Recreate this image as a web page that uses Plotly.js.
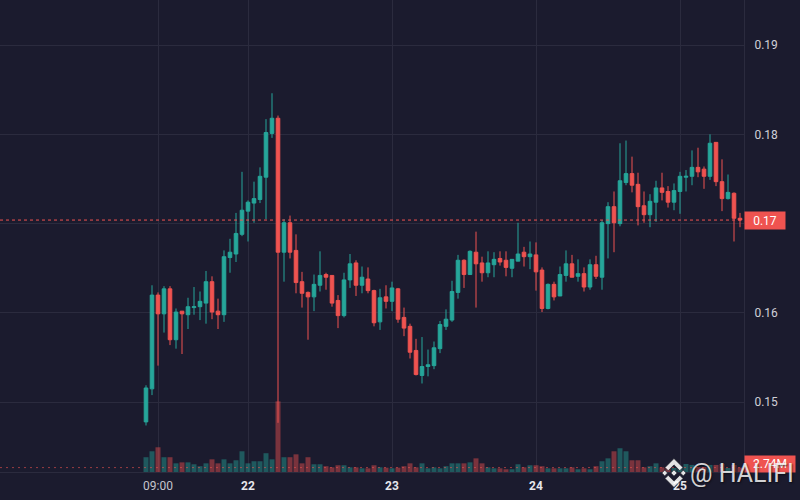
<!DOCTYPE html>
<html><head><meta charset="utf-8">
<script src="https://cdn.plot.ly/plotly-3.0.1.min.js"></script>
<style>html,body{margin:0;padding:0;background:#1b1b2e;} #chart{width:800px;height:500px;}</style>
</head><body><div id="chart"></div>
<script>
// Hourly candles, 21st 07:00 .. 25th 10:00
const openP = [.1478,.1515,.1620,.1599,.1627,.1570,.1602,.1598,.1606,.1607,
.1611,.1635,.1602,.1598,.1662,.1666,.1688,.1714,.1723,.1727,
.1752,.1801,.1818,.1668,.1701,.1670,.1635,.1623,.1618,.1631,
.1643,.1642,.1614,.1597,.1637,.1656,.1631,.1638,.1625,.1590,
.1618,.1613,.1627,.1595,.1585,.1558,.1530,.1540,.1541,.1560,
.1585,.1592,.1623,.1659,.1643,.1668,.1656,.1645,.1654,.1661,
.1659,.1650,.1658,.1668,.1663,.1665,.1648,.1605,.1632,.1619,
.1642,.1655,.1641,.1644,.1629,.1654,.1640,.1700,.1719,.1700,
.1746,.1756,.1744,.1720,.1710,.1724,.1740,.1736,.1724,.1736,
.1752,.1753,.1763,.1761,.1753,.1791,.1747,.1728,.1734,.1706];
const highP = [.1519,.1631,.1623,.1630,.1630,.1605,.1602,.1617,.1629,.1624,
.1647,.1641,.1616,.1670,.1683,.1712,.1758,.1726,.1747,.1763,
.1817,.1846,.1821,.1705,.1709,.1688,.1646,.1624,.1643,.1669,
.1645,.1642,.1620,.1645,.1666,.1659,.1652,.1651,.1626,.1627,
.1631,.1635,.1628,.1606,.1588,.1571,.1573,.1559,.1568,.1591,
.1604,.1636,.1665,.1660,.1670,.1691,.1663,.1669,.1668,.1669,
.1669,.1660,.1701,.1674,.1680,.1679,.1651,.1633,.1635,.1652,
.1670,.1665,.1660,.1651,.1660,.1664,.1704,.1724,.1736,.1790,
.1793,.1775,.1757,.1736,.1733,.1748,.1757,.1742,.1745,.1758,
.1760,.1782,.1785,.1764,.1800,.1791,.1772,.1755,.1735,.1712];
const lowP = [.1474,.1508,.1541,.1578,.1564,.1560,.1554,.1582,.1598,.1592,
.1588,.1593,.1582,.1590,.1645,.1657,.1686,.1680,.1701,.1723,
.1705,.1796,.1477,.1635,.1661,.1622,.1606,.1570,.1602,.1624,
.1626,.1607,.1583,.1595,.1628,.1619,.1622,.1622,.1585,.1581,
.1605,.1602,.1589,.1574,.1549,.1530,.1521,.1529,.1537,.1555,
.1581,.1590,.1616,.1628,.1643,.1606,.1635,.1640,.1640,.1653,
.1641,.1640,.1658,.1652,.1649,.1625,.1601,.1604,.1614,.1619,
.1635,.1640,.1635,.1624,.1626,.1638,.1626,.1661,.1668,.1697,
.1743,.1735,.1698,.1701,.1696,.1702,.1726,.1718,.1715,.1711,
.1736,.1743,.1752,.1739,.1749,.1742,.1714,.1727,.1680,.1696];
const closeP = [.1516,.1620,.1599,.1627,.1570,.1601,.1599,.1607,.1607,.1613,
.1635,.1601,.1598,.1663,.1668,.1689,.1715,.1724,.1728,.1753,
.1802,.1818,.1668,.1701,.1668,.1634,.1622,.1618,.1632,.1642,
.1640,.1611,.1597,.1637,.1655,.1631,.1640,.1625,.1589,.1617,
.1613,.1628,.1593,.1583,.1556,.1531,.1540,.1542,.1561,.1587,
.1593,.1624,.1659,.1643,.1669,.1655,.1645,.1656,.1660,.1657,
.1651,.1660,.1666,.1663,.1666,.1646,.1605,.1632,.1618,.1643,
.1655,.1640,.1644,.1629,.1654,.1641,.1701,.1719,.1701,.1748,
.1756,.1743,.1719,.1710,.1725,.1740,.1735,.1724,.1737,.1753,
.1753,.1763,.1758,.1753,.1790,.1747,.1728,.1735,.1706,.1704];
// Volume in millions
const volumeM = [9.2,12.9,15.4,9.2,9.2,5.4,6.0,6.0,4.8,3.6,
5.4,7.9,5.4,7.9,5.4,7.3,12.9,5.4,6.7,6.7,
11.7,7.9,44.0,9.2,9.2,11.0,5.4,9.2,4.8,4.8,
3.6,2.9,4.2,4.2,2.9,2.9,2.3,2.3,4.2,2.9,
2.7,2.3,2.7,3.6,5.4,2.9,5.4,2.3,2.9,2.3,
3.6,5.4,5.4,5.4,6.0,8.5,5.4,2.9,2.3,2.3,
1.7,1.7,4.8,2.9,4.2,4.2,3.6,2.3,2.3,2.3,
2.3,2.9,1.7,2.3,1.7,3.6,6.7,8.5,12.9,14.8,
12.9,7.3,7.3,2.9,3.6,5.4,2.9,2.5,2.5,3.1,
5.0,4.4,3.1,3.1,4.4,4.4,5.0,2.5,4.4,2.74];
const priceTicks = [0.15,0.16,0.17,0.18,0.19];
const priceTickText = ['0.15','0.16','0.17','0.18','0.19'];
const timeTicks = ['2024-03-21 09:00','2024-03-22 00:00','2024-03-23 00:00','2024-03-24 00:00','2024-03-25 00:00'];
const timeTickText = ['09:00','22','23','24','25'];
const lastVolumeText = '2.74M';
const watermarkText = '@ HALIFI';

const times = openP.map((_, i) => {
  const d = new Date(Date.UTC(2024, 2, 21, 7 + i));
  return d.toISOString().slice(0, 19).replace('T', ' ');
});

const UP = '#26a69a', DOWN = '#ef5350';
const volColors = closeP.map((c, i) => c >= openP[i] ? 'rgba(38,166,154,0.45)' : 'rgba(239,83,80,0.45)');
const lastClose = closeP[closeP.length - 1];
const lastVol = volumeM[volumeM.length - 1];

const traces = [
  {type: 'bar', x: times, y: volumeM, yaxis: 'y2', marker: {color: volColors, line: {width: 0}},
   width: 50 * 60 * 1000, hoverinfo: 'skip'},
  {type: 'candlestick', x: times, open: openP, high: highP, low: lowP, close: closeP,
   increasing: {line: {color: UP, width: 1}, fillcolor: UP},
   decreasing: {line: {color: DOWN, width: 1}, fillcolor: DOWN},
   whiskerwidth: 0, hoverinfo: 'skip'}
];

const grid = '#2b2b3e';
const tickTextStyled = timeTickText.map((t, i) => i === 0
  ? '<span style="color:#c4c4cc">' + t + '</span>'
  : '<b>' + t + '</b>');

// Watermark logo (decorative), built in paper coordinates of a 744x472 plot area
const PW = 744, PH = 472, LCX = 674, LCY = 473, LS = 14.5;
function poly(pts) {
  return 'M ' + pts.map(p => ((LCX + p[0] * LS) / PW).toFixed(5) + ',' + ((PH - (LCY + p[1] * LS)) / PH).toFixed(5)).join(' L ') + ' Z';
}
function diamond(u, v, h) { return poly([[u, v - h], [u + h, v], [u, v + h], [u - h, v]]); }
const chevTop = [[0, -1], [0.62, -0.38], [0.4, -0.16], [0, -0.56], [-0.4, -0.16], [-0.62, -0.38]];
const chevBot = chevTop.map(p => [p[0], -p[1]]);
const logoPaths = [poly(chevTop), poly(chevBot), diamond(0, 0, 0.22), diamond(-0.64, 0, 0.2), diamond(0.64, 0, 0.2)];
const logoShapes = logoPaths.map(p => ({type: 'path', xref: 'paper', yref: 'paper', path: p,
  fillcolor: 'rgba(255,255,255,0.88)', line: {color: 'rgba(20,20,30,0.7)', width: 1}, layer: 'above'}));

const layout = {
  width: 800, height: 500,
  margin: {l: 0, r: 56, t: 0, b: 28, pad: 0},
  paper_bgcolor: '#1b1b2e', plot_bgcolor: '#1b1b2e',
  showlegend: false, hovermode: false,
  font: {family: 'Roboto, "Open Sans", sans-serif', color: '#d6d6de', size: 12},
  boxgap: 0.15,
  xaxis: {
    type: 'date', range: ['2024-03-20 06:40', '2024-03-25 10:40'],
    tickmode: 'array', tickvals: timeTicks, ticktext: tickTextStyled,
    showgrid: true, gridcolor: grid, gridwidth: 1, zeroline: false,
    showline: true, linecolor: grid, linewidth: 1,
    ticks: 'outside', ticklen: 3, tickcolor: 'rgba(0,0,0,0)',
    tickfont: {size: 12, color: '#e6e6ec'},
    rangeslider: {visible: false}, fixedrange: true
  },
  yaxis: {
    side: 'right', range: [0.14219, 0.19504],
    tickmode: 'array', tickvals: priceTicks, ticktext: priceTickText,
    showgrid: true, gridcolor: grid, gridwidth: 1, zeroline: false,
    showline: true, linecolor: grid, linewidth: 1,
    ticks: 'outside', ticklen: 7, tickcolor: 'rgba(0,0,0,0)',
    tickfont: {size: 12, color: '#d0d0d8'}, fixedrange: true
  },
  yaxis2: {overlaying: 'y', range: [0, 294], visible: false, fixedrange: true},
  shapes: [
    {type: 'line', xref: 'paper', x0: 0, x1: 1, yref: 'y', y0: lastClose, y1: lastClose,
     line: {color: DOWN, width: 1, dash: '3px,3px'}},
    {type: 'line', xref: 'paper', x0: 0, x1: 1, yref: 'y2', y0: lastVol, y1: lastVol,
     line: {color: 'rgba(239,83,80,0.6)', width: 1, dash: '2px,4px'}}
  ].concat(logoShapes),
  annotations: [
    {xref: 'paper', x: 1, xanchor: 'left', yref: 'y', y: lastClose, yanchor: 'middle',
     text: lastClose.toFixed(2), showarrow: false, bgcolor: DOWN, width: 36, height: 13,
     borderpad: 2, font: {color: '#ffffff', size: 12}, align: 'center'},
    {xref: 'paper', x: 1, xanchor: 'left', yref: 'paper', y: 0.017, yanchor: 'middle',
     text: lastVolumeText, showarrow: false, bgcolor: DOWN, width: 46, height: 12,
     borderpad: 2, font: {color: '#ffffff', size: 12}, align: 'center'},
    {xref: 'paper', x: 742 / 744, xanchor: 'center', yref: 'paper', y: -1 / 472, yanchor: 'middle',
     text: watermarkText, showarrow: false,
     font: {color: 'rgba(255,255,255,0.82)', size: 25, family: 'Roboto, sans-serif', shadow: '1px 1px 2px rgba(0,0,0,0.7)'}}
  ]
};

Plotly.newPlot('chart', traces, layout, {displayModeBar: false, staticPlot: true});
</script>
</body></html>
